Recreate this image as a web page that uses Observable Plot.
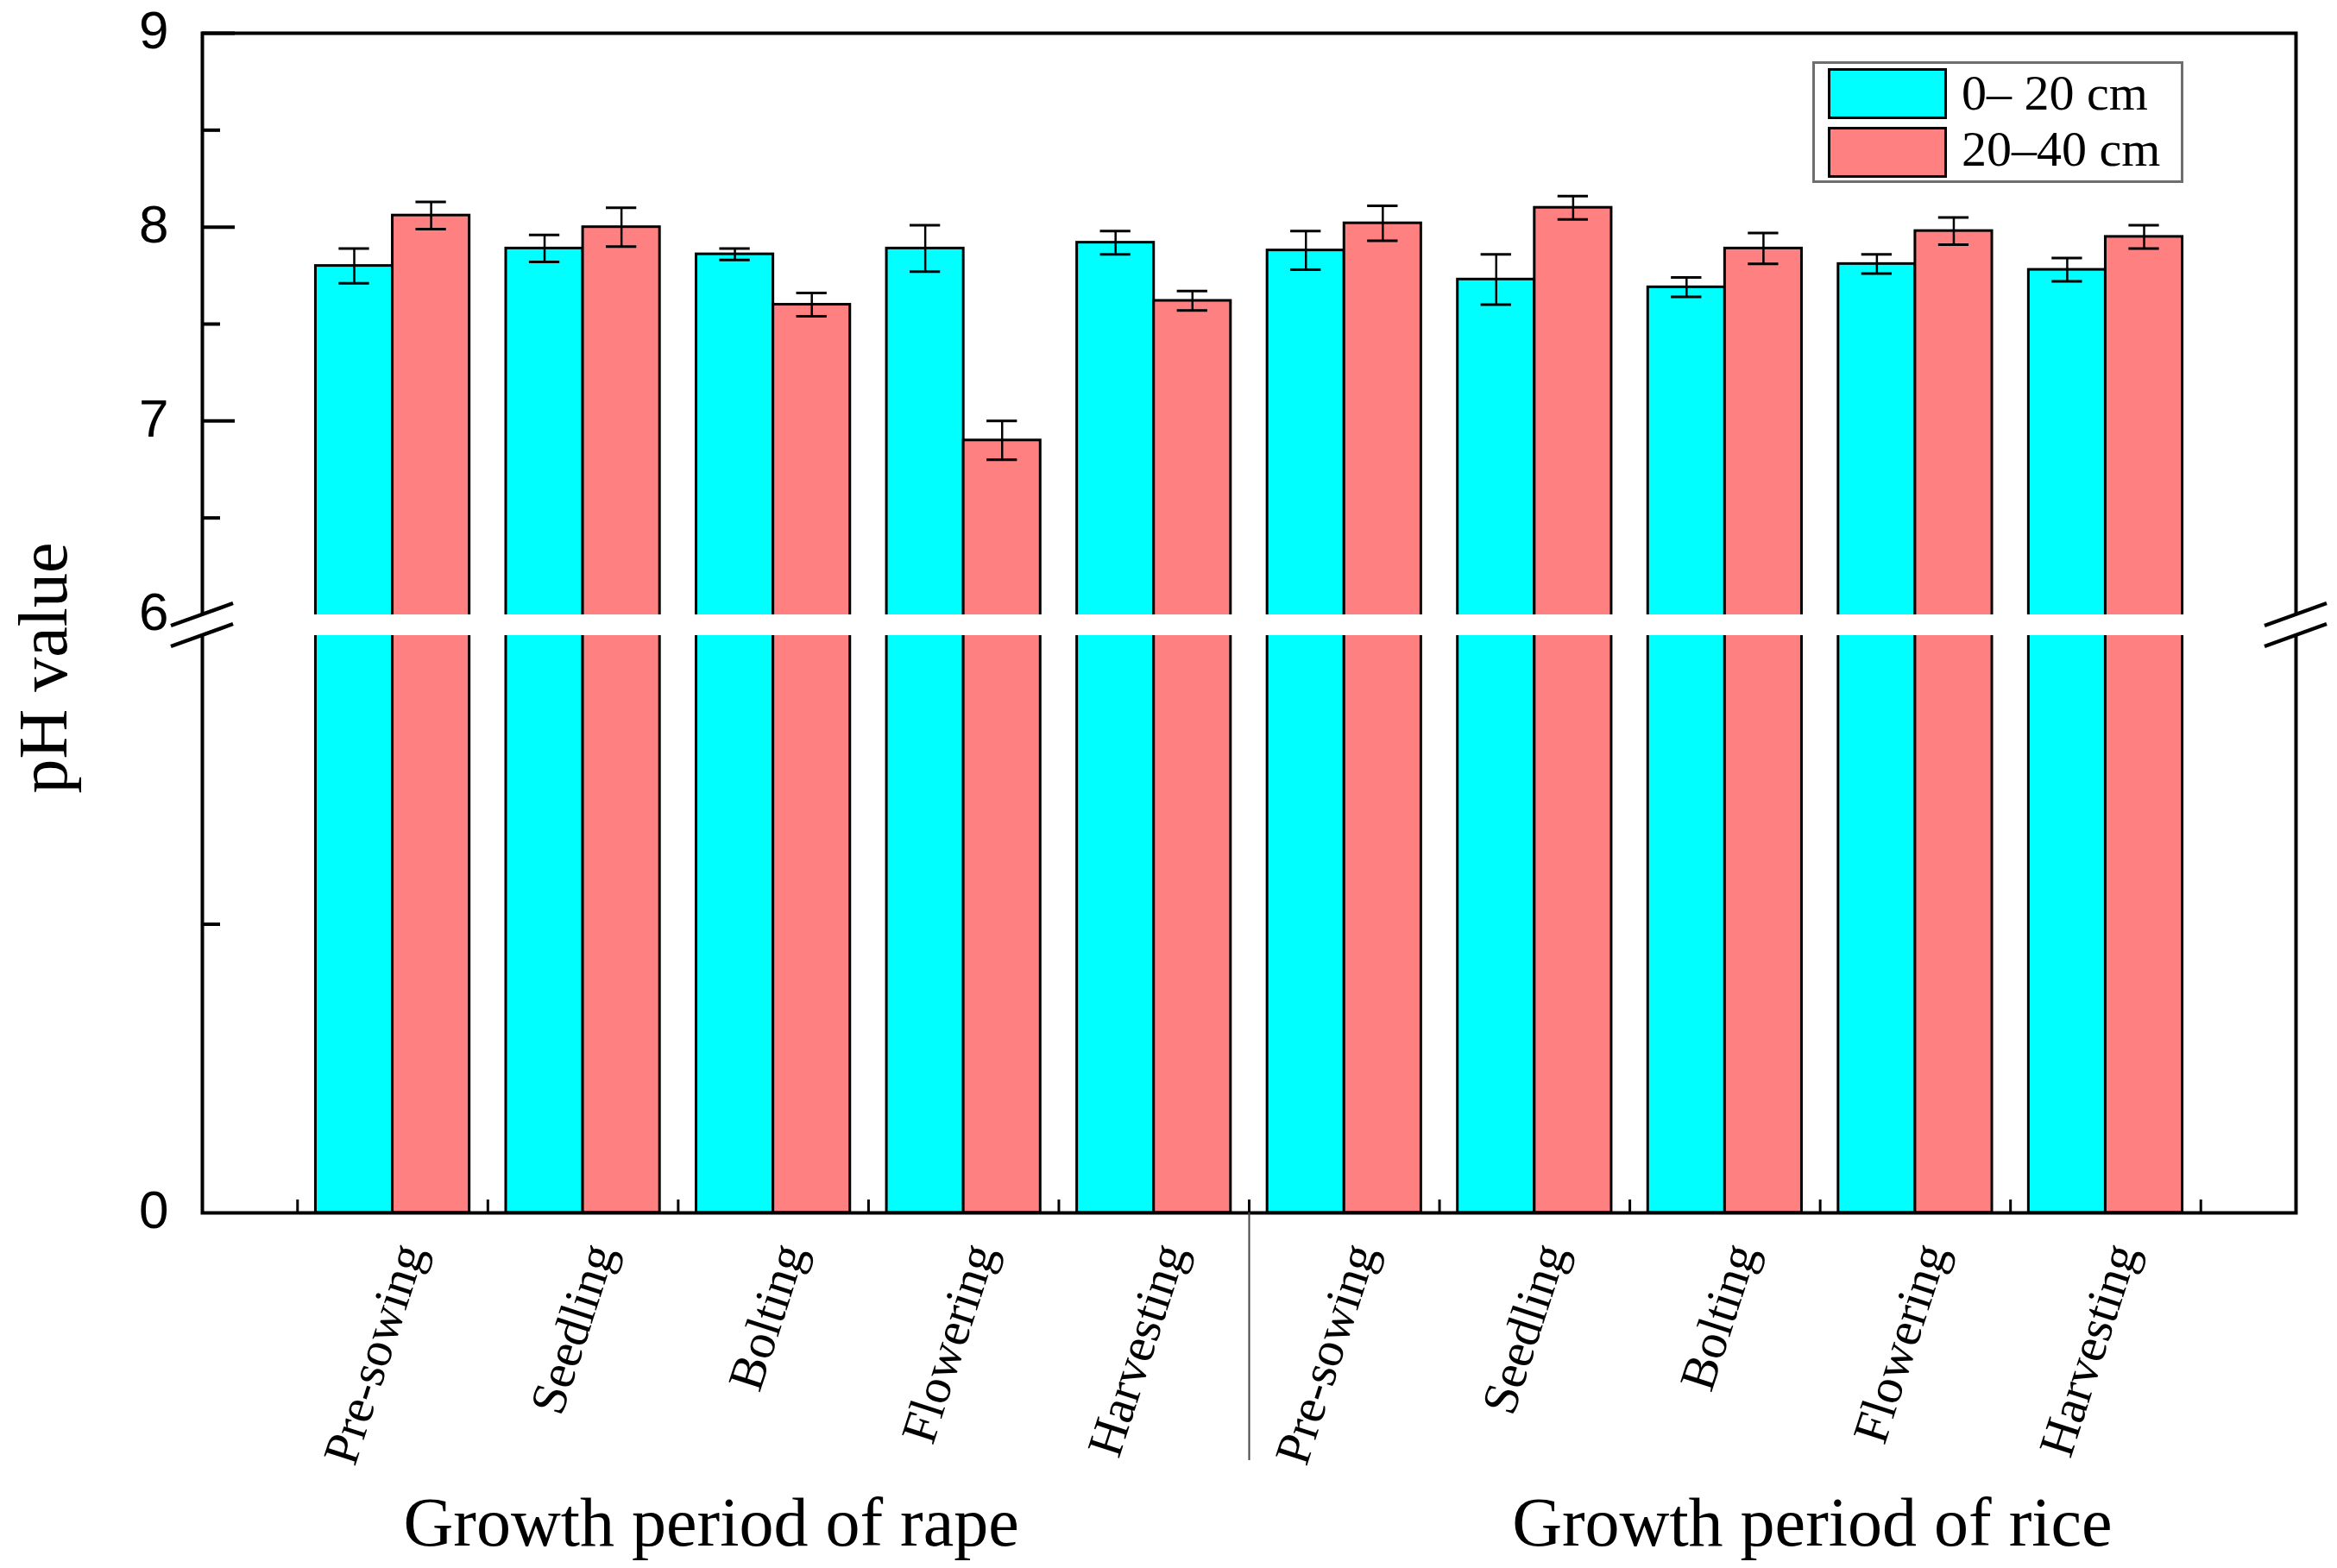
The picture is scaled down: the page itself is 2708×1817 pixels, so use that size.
<!DOCTYPE html>
<html><head><meta charset="utf-8">
<script src="https://cdn.jsdelivr.net/npm/d3@7"></script>
<script src="https://cdn.jsdelivr.net/npm/@observablehq/plot@0.6"></script>
<style>
html,body{margin:0;padding:0;background:#fff;overflow:hidden}
#wrap{position:relative;width:2708px;height:1817px}
#legend{position:absolute;left:2100px;top:71px;width:424px;height:135px;border:3px solid #6e6e6e;background:#fff}
.sw{position:absolute;left:15px;width:132px;height:53px;border:3px solid #000}
.lt{position:absolute;left:170px;font-family:"Liberation Serif","Times New Roman",serif;font-size:58px;line-height:1;color:#000;white-space:pre}
</style></head>
<body><div id="wrap"></div>
<script>
// ---- data ----
const periods = ["Pre-sowing", "Seedling", "Bolting", "Flowering", "Harvesting"];
const cropTitles = ["Growth period of rape", "Growth period of rice"];
const seriesNames = ["0– 20 cm", "20–40 cm"];
const seriesColors = ["#00FFFF", "#FF8080"];
const ph0_20  = [7.80, 7.89, 7.86, 7.89, 7.92, 7.88, 7.73, 7.69, 7.81, 7.78];
const sd0_20  = [0.09, 0.07, 0.03, 0.12, 0.06, 0.10, 0.13, 0.05, 0.05, 0.06];
const ph20_40 = [8.06, 8.00, 7.60, 6.90, 7.62, 8.02, 8.10, 7.89, 7.98, 7.95];
const sd20_40 = [0.07, 0.10, 0.06, 0.10, 0.05, 0.09, 0.06, 0.08, 0.07, 0.06];
const yTickLabels = ["0", "6", "7", "8", "9"];
const yTickValues = [0, 6, 7, 8, 9];
const yMinorValues = [3, 6.5, 7.5, 8.5];

// ---- layout constants ----
const W = 2708, H = 1817;
const mL = 234, mR = 48, mT = 38, mB = 412;
const BREAK = 6, EPS = 1e-4;
const gapTopPx = 712, gapBotPx = 736;
const nSlots = periods.length * 2 + 1;
const pxPerSlot = (W - mL - mR) / nSlots;
const pxPerLow = ((H - mB) - gapBotPx) / BREAK;
const BW = 0.404;      // bar width in slot units
const CAP = 0.08;      // error cap half-width
const majorLen = 38 / pxPerSlot, minorLen = 21 / pxPerSlot;
const xTickLen = 15 / pxPerLow;

// ---- tables ----
const groups = [];
for (let c = 0; c < 2; c++) periods.forEach((p, k) => groups.push({label: p, crop: c, pos: c * periods.length + k + 1}));
const rows = [];
groups.forEach((g, i) => {
  rows.push({pos: g.pos, series: seriesNames[0], s: 0, v: ph0_20[i], e: sd0_20[i]});
  rows.push({pos: g.pos, series: seriesNames[1], s: 1, v: ph20_40[i], e: sd20_40[i]});
});
rows.forEach(d => { d.x1 = d.s === 0 ? d.pos - BW : d.pos; d.x2 = d.s === 0 ? d.pos : d.pos + BW; d.xc = (d.x1 + d.x2) / 2; });
const boundaries = d3.range(0, groups.length + 1).map(i => i + 0.5);
const yLabelRows = yTickValues.map((v, i) => ({v: v === BREAK ? BREAK + EPS : v, t: yTickLabels[i]}));

function breakMarks(index, scales) {
  const g = d3.create("svg:g").attr("stroke", "#000").attr("stroke-width", 4.5);
  const xs = [scales.x(0), scales.x(nSlots)];
  const ys = [scales.y(BREAK + EPS), scales.y(BREAK)];
  for (const x of xs) for (const y of ys)
    g.append("line").attr("x1", x - 36).attr("y1", y + 13).attr("x2", x + 36).attr("y2", y - 13);
  return g.node();
}

const serif = "Liberation Serif, Times New Roman, serif";
const sans = "Liberation Sans, Arial, sans-serif";

const chart = Plot.plot({
  width: W, height: H,
  marginLeft: mL, marginRight: mR, marginTop: mT, marginBottom: mB,
  x: {type: "linear", domain: [0, nSlots], axis: null},
  y: {type: "linear", domain: [0, BREAK, BREAK + EPS, 9], range: [H - mB, gapBotPx, gapTopPx, mT], axis: null},
  color: {domain: seriesNames, range: seriesColors},
  style: {background: "white", fontFamily: sans},
  marks: [
    Plot.rectY(rows, {x1: "x1", x2: "x2", y1: 0, y2: "v", fill: "series", stroke: "black", strokeWidth: 3}),
    Plot.ruleX(rows, {x: "xc", y1: d => d.v - d.e, y2: d => d.v + d.e, stroke: "black", strokeWidth: 2.5}),
    Plot.ruleY(rows, {y: d => d.v + d.e, x1: d => d.xc - CAP, x2: d => d.xc + CAP, stroke: "black", strokeWidth: 3}),
    Plot.ruleY(rows, {y: d => d.v - d.e, x1: d => d.xc - CAP, x2: d => d.xc + CAP, stroke: "black", strokeWidth: 3}),
    Plot.frame({stroke: "black", strokeWidth: 4}),
    Plot.rect([0], {x1: -0.08, x2: nSlots + 0.08, y1: BREAK, y2: BREAK + EPS, fill: "white"}),
    breakMarks,
    // y ticks
    Plot.ruleY(yTickValues.filter(v => v !== BREAK && v !== 0), {y: d => d, x1: 0, x2: majorLen, stroke: "black", strokeWidth: 4}),
    Plot.ruleY(yMinorValues, {y: d => d, x1: 0, x2: minorLen, stroke: "black", strokeWidth: 4}),
    Plot.text(yLabelRows, {x: 0, y: "v", text: "t", textAnchor: "end", dx: -39, dy: -2, fontSize: 62, fontFamily: sans, fill: "black"}),
    // x ticks & divider
    Plot.ruleX(boundaries, {x: d => d, y1: 0, y2: xTickLen, stroke: "black", strokeWidth: 3}),
    Plot.ruleX([periods.length + 0.5], {x: d => d, y1: 0, y2: -287 / pxPerLow, stroke: "#444", strokeWidth: 2}),
    Plot.text(groups, {x: "pos", y: 0, text: "label", rotate: -72, textAnchor: "end", dx: 20, dy: 38,
      fontFamily: serif, fontSize: 58, fill: "black"}),
    Plot.text([cropTitles[0]], {x: 3, y: 0, text: d => d, lineAnchor: "bottom", dx: -72, dy: 385, fontFamily: serif, fontSize: 80, fill: "black"}),
    Plot.text([cropTitles[1]], {x: 8, y: 0, text: d => d, lineAnchor: "bottom", dx: 101, dy: 385, fontFamily: serif, fontSize: 80, fill: "black"}),
    Plot.text(["pH value"], {frameAnchor: "left", text: d => d, textAnchor: "middle", rotate: -90, dx: -183, dy: 52, fontFamily: serif, fontSize: 80, fill: "black"})
  ]
});
const wrap = document.getElementById("wrap");
wrap.appendChild(chart);

// legend (inside plot area, top right)
const lg = document.createElement("div");
lg.id = "legend";
seriesNames.forEach((n, i) => {
  const sw = document.createElement("div");
  sw.className = "sw"; sw.style.top = (5 + i * 68) + "px"; sw.style.background = seriesColors[i];
  const t = document.createElement("div");
  t.className = "lt"; t.style.top = (5 + i * 65) + "px"; t.textContent = n;
  lg.appendChild(sw); lg.appendChild(t);
});
wrap.appendChild(lg);
</script>
</body></html>
